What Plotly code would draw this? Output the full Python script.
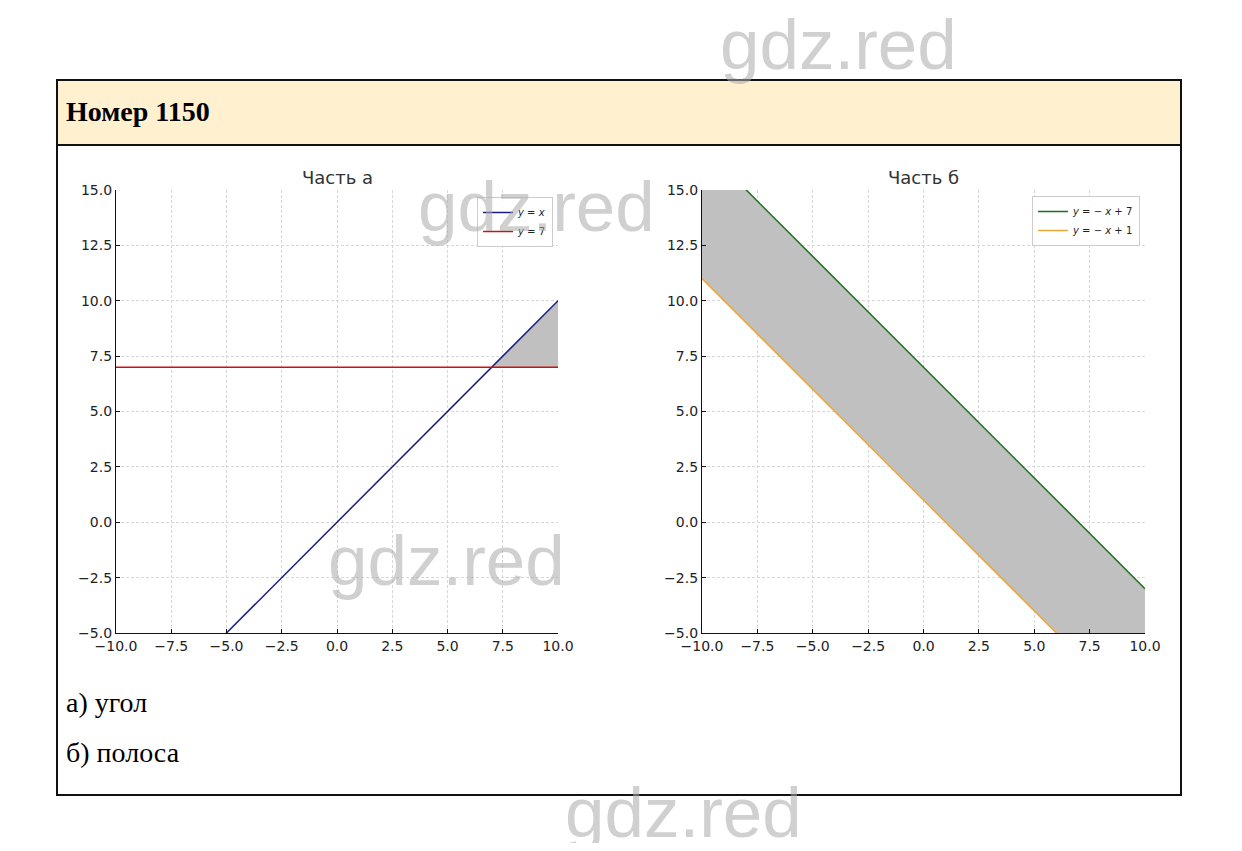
import plotly.graph_objects as go

# page body has an 8px margin; size the figure so that it fits the window
OFF = 8
W, H = 1242 - 2 * OFF, 851 - 2 * OFF

# ---- data ----
ticks = [-10.0, -7.5, -5.0, -2.5, 0.0, 2.5, 5.0, 7.5, 10.0]
yticks = [-5.0, -2.5, 0.0, 2.5, 5.0, 7.5, 10.0, 12.5, 15.0]

# part a
line_yx_x = [-10, 10]
line_yx_y = [-10, 10]
line_y7_x = [-10, 10]
line_y7_y = [7, 7]
fill_a_x = [7, 10, 10, 7]
fill_a_y = [7, 10, 7, 7]

# part b
line_g_x = [-10, 10]
line_g_y = [17, -3]
line_o_x = [-10, 10]
line_o_y = [11, -9]
fill_b_x = [-10, 10, 10, -10, -10]
fill_b_y = [17, -3, -9, 11, 17]


def px(x):
    return (x - OFF) / W


def py(y):
    return 1 - (y - OFF) / H


def fmt(v):
    s = f"{v:.1f}"
    return s.replace("-", "\u2212")


fig = go.Figure()

# fills
fig.add_trace(go.Scatter(x=fill_a_x, y=fill_a_y, fill="toself", mode="none",
                         fillcolor="#c0c0c0", showlegend=False, xaxis="x", yaxis="y"))
fig.add_trace(go.Scatter(x=fill_b_x, y=fill_b_y, fill="toself", mode="none",
                         fillcolor="#c0c0c0", showlegend=False, xaxis="x2", yaxis="y2"))

# lines a
fig.add_trace(go.Scatter(x=line_yx_x, y=line_yx_y, mode="lines",
                         line=dict(color="#1c1c80", width=1.5),
                         name="<i>y</i> = <i>x</i>", legend="legend", xaxis="x", yaxis="y"))
fig.add_trace(go.Scatter(x=line_y7_x, y=line_y7_y, mode="lines",
                         line=dict(color="#d01010", width=1.5),
                         name="<i>y</i> = 7", legend="legend", xaxis="x", yaxis="y"))
# lines b
fig.add_trace(go.Scatter(x=line_g_x, y=line_g_y, mode="lines",
                         line=dict(color="#1a6e1a", width=1.5),
                         name="<i>y</i> = \u2212 <i>x</i> + 7", legend="legend2", xaxis="x2", yaxis="y2"))
fig.add_trace(go.Scatter(x=line_o_x, y=line_o_y, mode="lines",
                         line=dict(color="#e8a63c", width=1.5),
                         name="<i>y</i> = \u2212 <i>x</i> + 1", legend="legend2", xaxis="x2", yaxis="y2"))

tickfont = dict(family="DejaVu Sans", size=14, color="#222")
axcommon = dict(
    showline=True, linecolor="#111", linewidth=1.2, mirror=False,
    ticks="inside", ticklen=4, tickcolor="#111", tickwidth=1,
    showgrid=True, gridcolor="#d8d8d8", griddash="3px,2px", gridwidth=0.8,
    zeroline=False, tickfont=tickfont,
)

ya_dom = [py(633), py(190)]
fig.update_layout(
    width=W, height=H,
    margin=dict(l=0, r=0, t=0, b=0, autoexpand=False),
    paper_bgcolor="white", plot_bgcolor="white",
    xaxis=dict(domain=[px(116), px(558)], range=[-10, 10], anchor="y",
               tickvals=ticks, ticktext=[fmt(t) for t in ticks], **axcommon),
    yaxis=dict(domain=ya_dom, range=[-5, 15], anchor="x",
               tickvals=yticks, ticktext=[fmt(t) for t in yticks], **axcommon),
    xaxis2=dict(domain=[px(702), px(1145)], range=[-10, 10], anchor="y2",
                tickvals=ticks, ticktext=[fmt(t) for t in ticks], **axcommon),
    yaxis2=dict(domain=ya_dom, range=[-5, 15], anchor="x2",
                tickvals=yticks, ticktext=[fmt(t) for t in yticks], **axcommon),
    legend=dict(x=px(553), y=py(197), xanchor="right", yanchor="top",
                bgcolor="rgba(255,255,255,0.85)", bordercolor="#cccccc", borderwidth=1,
                font=dict(family="DejaVu Sans", size=10, color="#222"),
                itemwidth=30, tracegroupgap=0),
    legend2=dict(x=px(1140), y=py(196), xanchor="right", yanchor="top",
                 bgcolor="rgba(255,255,255,0.85)", bordercolor="#cccccc", borderwidth=1,
                 font=dict(family="DejaVu Sans", size=10, color="#222"),
                 itemwidth=30, tracegroupgap=0),
    showlegend=True,
)

shapes = [
    dict(type="rect", xref="paper", yref="paper", x0=px(57), x1=px(1181), y0=py(145), y1=py(80),
         fillcolor="#fff0cf", line=dict(width=0), layer="below"),
    dict(type="rect", xref="paper", yref="paper", x0=px(57), x1=px(1181), y0=py(795), y1=py(80),
         line=dict(color="#111", width=2), layer="above"),
    dict(type="line", xref="paper", yref="paper", x0=px(57), x1=px(1181), y0=py(145), y1=py(145),
         line=dict(color="#111", width=2)),
]
fig.update_layout(shapes=shapes)

ann = [
    dict(text="<b>Номер 1150</b>", x=px(64), y=py(111), xanchor="left", yanchor="middle",
         font=dict(family="Liberation Serif", size=28, color="#000")),
    dict(text="Часть а", x=px(337), y=py(177), xanchor="center", yanchor="middle",
         font=dict(family="DejaVu Sans", size=18, color="#333")),
    dict(text="Часть б", x=px(923), y=py(177), xanchor="center", yanchor="middle",
         font=dict(family="DejaVu Sans", size=18, color="#333")),
    dict(text="а) угол", x=px(64), y=py(702), xanchor="left", yanchor="middle",
         font=dict(family="Liberation Serif", size=28, color="#000")),
    dict(text="б) полоса", x=px(64), y=py(752), xanchor="left", yanchor="middle",
         font=dict(family="Liberation Serif", size=28, color="#000")),
]
for (cx, cy) in [(838, 45), (536, 207), (446, 560), (683, 812)]:
    ann.append(dict(text="gdz.red", x=px(cx), y=py(cy), xanchor="center", yanchor="middle",
                    font=dict(family="Liberation Sans", size=71, color="rgba(170,170,170,0.55)")))
for a in ann:
    a.update(xref="paper", yref="paper", showarrow=False)
fig.update_layout(annotations=ann)

fig.write_html("out.html")
